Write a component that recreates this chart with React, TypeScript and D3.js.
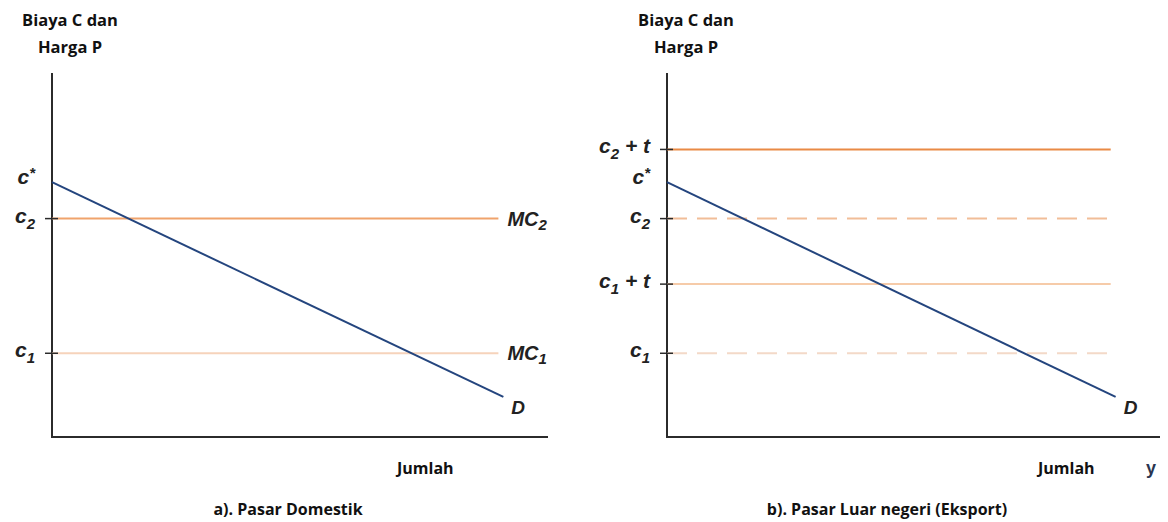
import React, { useEffect, useRef } from 'react'
import * as d3 from 'd3'

// price levels (arbitrary units, 0 = x-axis, 100 = top of y-axis)
const cStar = 70
const c1 = 23
const c2 = 60
const c1t = 42
const c2t = 79
const dEnd = 11

// quantity extents (0..100 along the x-axis)
const lineEnd = 90
const demandEnd = 91

const domesticLines = [
  { level: c2, color: '#f0a36c', dash: null, label: 'MC', sub: '2' },
  { level: c1, color: '#f6d3bb', dash: null, label: 'MC', sub: '1' },
]
const exportLines = [
  { level: c2t, color: '#e98a45', dash: null },
  { level: c2, color: '#f1bd98', dash: '20,10' },
  { level: c1t, color: '#f6cba9', dash: null },
  { level: c1, color: '#f3d9c8', dash: '20,10' },
]
const domesticTicks = [
  { level: cStar, main: 'c', sup: '*', sub: '', plus: '', tick: false },
  { level: c2, main: 'c', sup: '', sub: '2', plus: '', tick: true },
  { level: c1, main: 'c', sup: '', sub: '1', plus: '', tick: true },
]
const exportTicks = [
  { level: c2t, main: 'c', sup: '', sub: '2', plus: ' + t', tick: true },
  { level: cStar, main: 'c', sup: '*', sub: '', plus: '', tick: false },
  { level: c2, main: 'c', sup: '', sub: '2', plus: '', tick: true },
  { level: c1t, main: 'c', sup: '', sub: '1', plus: ' + t', tick: true },
  { level: c1, main: 'c', sup: '', sub: '1', plus: '', tick: true },
]

const titleFont = '"Open Sans", Lato, sans-serif'
const mathFont = '"Liberation Sans", Arial, sans-serif'

const App = () => {
  const ref = useRef<SVGSVGElement>(null)

  useEffect(() => {
    const svg = d3.select(ref.current)
    svg.selectAll('*').remove()

    const drawPanel = (opts: {
      x0: number
      x1: number
      lines: any[]
      ticks: any[]
      caption: string
      captionX: number
      titleX: number
      jumlahX: number
      showY: boolean
    }) => {
      const g = svg.append('g')
      const x = d3.scaleLinear().domain([0, 100]).range([opts.x0, opts.x1])
      const y = d3.scaleLinear().domain([0, 100]).range([437, 73])

      // axes
      g.append('path')
        .attr('d', `M${x(0)},${y(100)}V${y(0)}H${x(100)}`)
        .attr('fill', 'none')
        .attr('stroke', '#2b2b2b')
        .attr('stroke-width', 2)

      // cost lines
      g.selectAll('line.cost')
        .data(opts.lines)
        .join('line')
        .attr('class', 'cost')
        .attr('x1', x(0))
        .attr('x2', x(lineEnd))
        .attr('y1', (d) => y(d.level))
        .attr('y2', (d) => y(d.level))
        .attr('stroke', (d) => d.color)
        .attr('stroke-width', 2)
        .attr('stroke-dasharray', (d) => d.dash)

      // tick marks
      g.selectAll('line.tick')
        .data(opts.ticks.filter((d) => d.tick))
        .join('line')
        .attr('class', 'tick')
        .attr('x1', x(0) - 7)
        .attr('x2', x(0) + 6)
        .attr('y1', (d) => y(d.level))
        .attr('y2', (d) => y(d.level))
        .attr('stroke', '#2b2b2b')
        .attr('stroke-width', 1.5)

      // demand line
      g.append('line')
        .attr('x1', x(0))
        .attr('y1', y(cStar))
        .attr('x2', x(demandEnd))
        .attr('y2', y(dEnd))
        .attr('stroke', '#24457e')
        .attr('stroke-width', 2)

      g.append('text')
        .attr('x', x(demandEnd) + 8)
        .attr('y', y(dEnd) + 17)
        .attr('font-family', mathFont)
        .attr('font-weight', 'bold')
        .attr('font-style', 'italic')
        .attr('font-size', 19)
        .attr('fill', '#222')
        .text('D')

      // line labels on right (MC)
      const lab = g
        .selectAll('text.mc')
        .data(opts.lines.filter((d) => d.label))
        .join('text')
        .attr('class', 'mc')
        .attr('x', x(lineEnd) + 9)
        .attr('y', (d) => y(d.level) + 7)
        .attr('font-family', mathFont)
        .attr('font-weight', 'bold')
        .attr('font-style', 'italic')
        .attr('font-size', 20)
        .attr('fill', '#222')
      lab.append('tspan').text((d) => d.label)
      lab
        .append('tspan')
        .attr('font-size', 15)
        .attr('dy', 4)
        .text((d) => d.sub)

      // y tick labels
      const tl = g
        .selectAll('text.tl')
        .data(opts.ticks)
        .join('text')
        .attr('class', 'tl')
        .attr('x', x(0) - 17)
        .attr('y', (d) => y(d.level) + (d.tick ? 4 : 2))
        .attr('text-anchor', 'end')
        .attr('font-family', mathFont)
        .attr('font-weight', 'bold')
        .attr('font-style', 'italic')
        .attr('font-size', 21)
        .attr('fill', '#222')
      tl.append('tspan').text((d) => d.main)
      tl.append('tspan')
        .attr('font-size', 15)
        .attr('dy', (d) => (d.sup ? -6 : d.sub ? 6 : 0))
        .text((d) => d.sup || d.sub)
      tl.append('tspan')
        .attr('dy', (d) => (d.sup ? 6 : d.sub ? -6 : 0))
        .text((d) => d.plus)

      // titles
      const t = g
        .append('text')
        .attr('x', opts.titleX)
        .attr('font-family', titleFont)
        .attr('font-weight', 'bold')
        .attr('font-size', 16.5)
        .attr('fill', '#111')
        .attr('text-anchor', 'middle')
      t.append('tspan').attr('x', opts.titleX).attr('y', 26).text('Biaya C dan')
      t.append('tspan').attr('x', opts.titleX).attr('y', 53).text('Harga P')

      g.append('text')
        .attr('x', opts.jumlahX)
        .attr('y', 474)
        .attr('font-family', titleFont)
        .attr('font-weight', 'bold')
        .attr('font-size', 16)
        .attr('fill', '#111')
        .text('Jumlah')

      g.append('text')
        .attr('x', opts.captionX)
        .attr('y', 515)
        .attr('text-anchor', 'middle')
        .attr('font-family', titleFont)
        .attr('font-weight', 'bold')
        .attr('font-size', 16)
        .attr('fill', '#111')
        .text(opts.caption)

      if (opts.showY) {
        g.append('text')
          .attr('x', 1146)
          .attr('y', 474)
          .attr('font-family', mathFont)
          .attr('font-weight', 'bold')
          .attr('font-size', 18)
          .attr('fill', '#2a3550')
          .text('y')
      }
    }

    drawPanel({
      x0: 52,
      x1: 548,
      lines: domesticLines,
      ticks: domesticTicks,
      caption: 'a). Pasar Domestik',
      captionX: 288,
      titleX: 70,
      jumlahX: 397,
      showY: false,
    })
    drawPanel({
      x0: 667,
      x1: 1160,
      lines: exportLines,
      ticks: exportTicks,
      caption: 'b). Pasar Luar negeri (Eksport)',
      captionX: 887,
      titleX: 686,
      jumlahX: 1038,
      showY: true,
    })
  }, [])

  return (
    <svg
      ref={ref}
      width={1168}
      height={522}
      style={{ position: 'absolute', left: 0, top: 0, background: '#fff' }}
    />
  )
}

export default App
